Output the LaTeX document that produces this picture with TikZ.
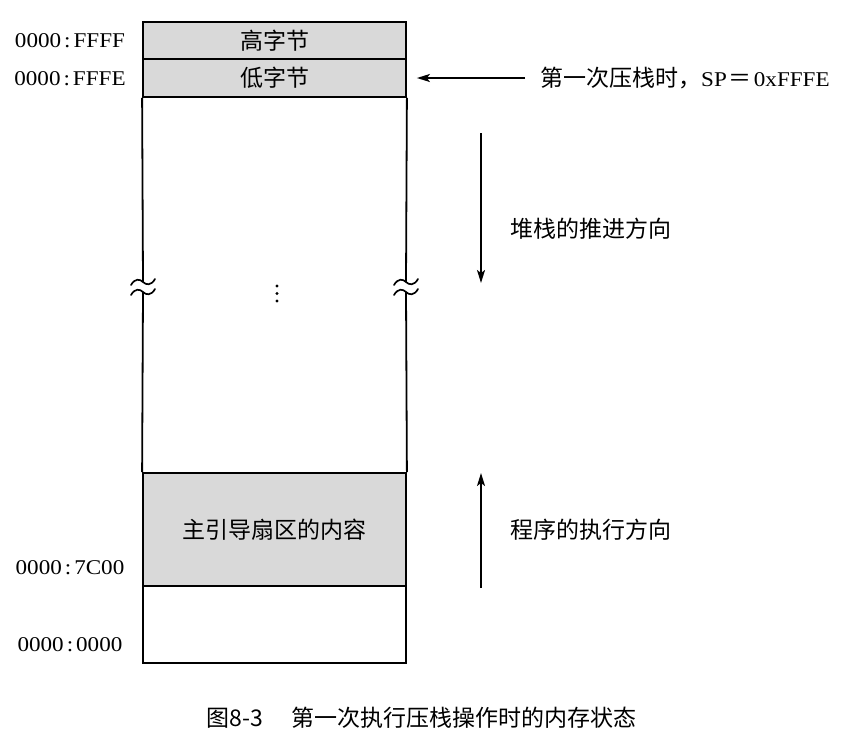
\documentclass[tikz,border=0pt]{standalone}
\usepackage{fontspec}
\setmainfont{Liberation Serif}
\newfontfamily\cjk{Noto Sans CJK SC}
\newfontfamily\addrfont[FakeStretch=1.1]{Liberation Serif}
\usetikzlibrary{arrows.meta}
\definecolor{cellgray}{HTML}{D9D9D9}
\newcommand{\addrcolon}{\hspace{3pt}:\hspace{3pt}}
\begin{document}
\begin{tikzpicture}[x=1pt,y=-1pt,
  wall/.style={line width=1.8pt},
  cell/.style={draw, line width=1.8pt, fill=cellgray, minimum width=263pt,
    inner sep=0pt, font=\cjk\fontsize{23}{23}\selectfont},
  addr/.style={inner sep=0pt, font=\addrfont\fontsize{21}{21}\selectfont},
  note/.style={inner sep=0pt, anchor=west, font=\cjk\fontsize{23}{23}\selectfont},
  arr/.style={line width=1.7pt, -{Stealth[length=13pt,width=8pt,inset=3pt]}},
  brk/.style={line width=1.7pt, line cap=round}]
\useasboundingbox (0,0) rectangle (850,747);

% memory cells
\node[cell, minimum height=37pt] (hi) at (274.5,40.5) {高字节};
\node[cell, minimum height=38pt] (lo) at (274.5,78) {低字节};
\node[cell, minimum height=113pt] (mbr) at (274.5,529.5) {主引导扇区的内容};
\node[cell, fill=white, minimum height=77pt] (base) at (274.5,624.5) {};

% side walls with break marks
\coordinate (lbt) at (143,282);
\coordinate (lbb) at (143,292);
\coordinate (rbt) at (406,282);
\coordinate (rbb) at (406,292);
\draw[wall] (lo.south west) -- (lbt);
\draw[wall] (lbb) -- (mbr.north west);
\draw[wall] (lo.south east) -- (rbt);
\draw[wall] (rbb) -- (mbr.north east);
\foreach \c in {lbt,lbb,rbt,rbb}{
  \draw[brk] ([shift={(-12,3)}]\c) .. controls ([shift={(-8,-4)}]\c) and ([shift={(-3,-3)}]\c) .. (\c)
    .. controls ([shift={(3,3)}]\c) and ([shift={(8,4)}]\c) .. ([shift={(12,-3)}]\c);
}

% vertical ellipsis
\fill (277,286) circle (1.7);
\fill (277,293.5) circle (1.7);
\fill (277,301) circle (1.7);

% addresses
\node[addr] (aFFFF) at (70,41) {0000\addrcolon FFFF};
\node[addr] (aFFFE) at (70,79) {0000\addrcolon FFFE};
\node[addr] (a7C00) at (70,568) {0000\addrcolon 7C00};
\node[addr] (a0000) at (70,645) {0000\addrcolon 0000};

% stack pointer annotation
\node[note] (sp) at (540,78) {第一次压栈时，{\addrfont\fontsize{21}{21}\selectfont SP\hspace{2pt}}＝{\addrfont\fontsize{21}{21}\selectfont\hspace{2pt}0xFFFE}};
\draw[arr, shorten <=15pt, shorten >=10pt] (sp.west) -- (lo.east);

% growth directions
\coordinate (pushA) at (481,133);
\coordinate (pushB) at (481,283);
\draw[arr] (pushA) -- (pushB);
\node[note] (push) at (510,229) {堆栈的推进方向};

\coordinate (execA) at (481,588);
\coordinate (execB) at (481,473);
\draw[arr] (execA) -- (execB);
\node[note] (exec) at (510,530) {程序的执行方向};

% caption
\node[inner sep=0pt, font=\cjk\fontsize{23}{23}\selectfont] (cap) at (421.5,718) {图8-3\hspace{1.2em}第一次执行压栈操作时的内存状态};
\end{tikzpicture}
\end{document}
